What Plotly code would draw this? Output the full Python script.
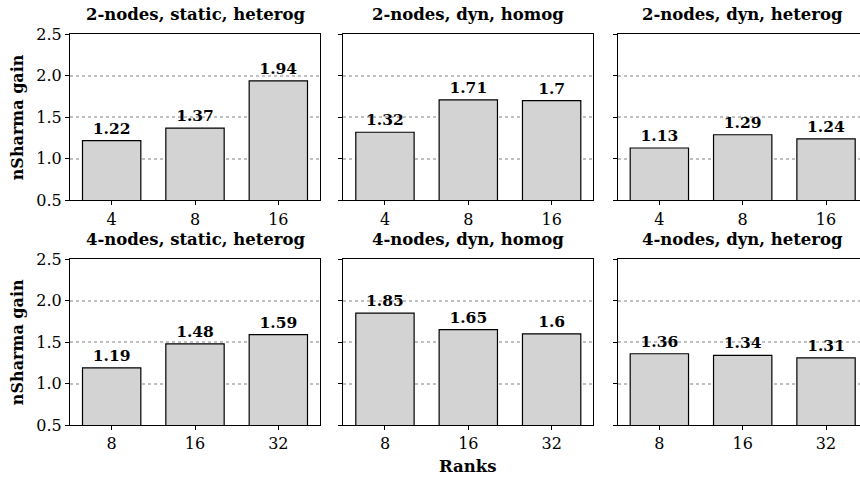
import plotly.graph_objects as go

titles = ["2-nodes, static, heterog", "2-nodes, dyn, homog", "2-nodes, dyn, heterog",
          "4-nodes, static, heterog", "4-nodes, dyn, homog", "4-nodes, dyn, heterog"]
ranks_2nodes = ["4", "8", "16"]
ranks_4nodes = ["8", "16", "32"]
gain_2_static_heterog = [1.22, 1.37, 1.94]
gain_2_dyn_homog = [1.32, 1.71, 1.7]
gain_2_dyn_heterog = [1.13, 1.29, 1.24]
gain_4_static_heterog = [1.19, 1.48, 1.59]
gain_4_dyn_homog = [1.85, 1.65, 1.6]
gain_4_dyn_heterog = [1.36, 1.34, 1.31]
y_ticks = [0.5, 1.0, 1.5, 2.0, 2.5]

series = [
    (ranks_2nodes, gain_2_static_heterog),
    (ranks_2nodes, gain_2_dyn_homog),
    (ranks_2nodes, gain_2_dyn_heterog),
    (ranks_4nodes, gain_4_static_heterog),
    (ranks_4nodes, gain_4_dyn_homog),
    (ranks_4nodes, gain_4_dyn_heterog),
]

W, H = 860, 479
FONT = "DejaVu Serif"
col_px = [(70, 320), (343.3, 593.3), (617.7, 860)]
col_range = [[-0.5, 2.5], [-0.5, 2.5], [-0.5, 2.5 - (867.7 - 860) / (250 / 3)]]
row_px = [(34.3, 200.3), (259.3, 425)]

fig = go.Figure()
layout = dict(width=W, height=H, margin=dict(l=0, r=0, t=0, b=0),
              plot_bgcolor="white", paper_bgcolor="white", showlegend=False,
              font=dict(family=FONT, color="black", size=14))
annotations = []
for i, (cats, vals) in enumerate(series):
    r, c = divmod(i, 3)
    k = i + 1
    xa = "x" if k == 1 else f"x{k}"
    ya = "y" if k == 1 else f"y{k}"
    fig.add_trace(go.Bar(
        x=cats, y=vals, xaxis=xa, yaxis=ya, width=0.7,
        marker=dict(color="#d3d3d3", line=dict(color="black", width=1.2)),
        text=[f"{v:g}" for v in vals], textposition="outside",
        textfont=dict(family=FONT, size=15.5, color="black", weight="bold"),
        cliponaxis=False))
    x0, x1 = col_px[c]
    yt, yb = row_px[r]
    layout[f"xaxis{k}"] = dict(
        domain=[x0 / W, x1 / W], anchor=ya, type="category", range=col_range[c],
        showline=True, linecolor="black", linewidth=1, mirror=True,
        ticks="outside", ticklen=4, tickcolor="black", automargin=False,
        tickfont=dict(family=FONT, size=16), showgrid=False, fixedrange=True)
    layout[f"yaxis{k}"] = dict(
        domain=[1 - yb / H, 1 - yt / H], anchor=xa, range=[0.5, 2.5],
        tickvals=y_ticks, ticktext=[f"{v:.1f}" for v in y_ticks],
        showticklabels=(c == 0), automargin=False,
        showline=True, linecolor="black", linewidth=1, mirror=(c != 2),
        ticks="outside", ticklen=4, tickcolor="black",
        tickfont=dict(family=FONT, size=16),
        showgrid=True, gridcolor="#c0c0c0", griddash="dot", gridwidth=1.5,
        zeroline=False, fixedrange=True)
    if c == 0:
        annotations.append(dict(
            text="<b>nSharma gain</b>", x=17 / W, y=1 - (yt + yb) / 2 / H,
            xref="paper", yref="paper", showarrow=False, textangle=-90,
            xanchor="center", yanchor="middle", font=dict(family=FONT, size=16)))
    annotations.append(dict(
        text=f"<b>{titles[i]}</b>", x=(x0 + (x1 if c < 2 else 867.7)) / 2 / W,
        y=1 - (yt - 20) / H, xref="paper", yref="paper", showarrow=False,
        xanchor="center", yanchor="middle", font=dict(family=FONT, size=16.5)))

annotations.append(dict(text="<b>Ranks</b>", x=468 / W, y=1 - 466 / H,
                        xref="paper", yref="paper", showarrow=False,
                        xanchor="center", yanchor="middle",
                        font=dict(family=FONT, size=16.5)))
layout["annotations"] = annotations
fig.update_layout(**layout)
fig.write_html("out.html", config={"displayModeBar": False},
               post_script="document.body.style.margin='0';document.body.style.overflow='hidden';")
